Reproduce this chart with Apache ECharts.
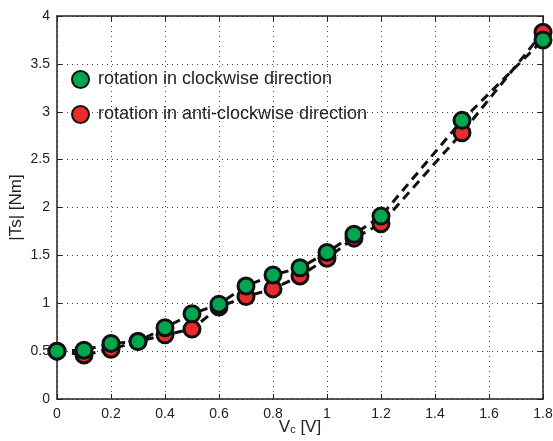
<!DOCTYPE html>
<html lang="en">
<head>
<meta charset="UTF-8">
<title>Ts vs Vc</title>
<script src="https://cdn.jsdelivr.net/npm/echarts@6/dist/echarts.min.js"></script>
<style>
html,body{margin:0;padding:0;background:#fff;}
#chart{width:553px;height:441px;}
</style>
</head>
<body>
<div id="chart"></div>
<script>
// data
var vc = [0, 0.1, 0.2, 0.3, 0.4, 0.5, 0.6, 0.7, 0.8, 0.9, 1.0, 1.1, 1.2, 1.5, 1.8];
var tsClockwise = [0.50, 0.51, 0.58, 0.60, 0.745, 0.89, 0.99, 1.18, 1.295, 1.37, 1.53, 1.72, 1.91, 2.91, 3.75];
var tsAnti = [0.50, 0.46, 0.52, 0.60, 0.67, 0.73, 0.96, 1.07, 1.15, 1.285, 1.47, 1.68, 1.83, 2.78, 3.83];
var nameCw = 'rotation in clockwise direction';
var nameAcw = 'rotation in anti-clockwise direction';

function pairs(xs, ys) {
  return xs.map(function (x, i) { return [x, ys[i]]; });
}

var font = 'Liberation Sans, Arial, sans-serif';

function mkSeries(name, ys, color) {
  return {
    name: name,
    type: 'line',
    data: pairs(vc, ys),
    symbol: 'circle',
    symbolSize: 16,
    itemStyle: { color: color, borderColor: '#111', borderWidth: 3 },
    lineStyle: { color: '#111', width: 3, type: [9, 6] },
    emphasis: { disabled: true },
    animation: false
  };
}

var myChart = echarts.init(document.getElementById('chart'));
var option = {
  backgroundColor: '#fff',
  textStyle: { fontFamily: font },
  grid: { left: 57, right: 10, top: 16, bottom: 42, containLabel: false, outerBoundsMode: 'none' },
  legend: {
    orient: 'vertical',
    left: 66,
    top: 65,
    itemGap: 16,
    itemWidth: 17,
    itemHeight: 17,
    icon: 'circle',
    data: [nameCw, nameAcw],
    textStyle: { fontSize: 18, color: '#222', fontFamily: font, padding: [0, 0, 0, 4] },
    selectedMode: false
  },
  xAxis: [{
    type: 'value',
    min: 0, max: 1.8, interval: 0.2,
    axisLine: { lineStyle: { color: '#222', width: 1.5 } },
    axisTick: { inside: true, length: 5, lineStyle: { color: '#222' } },
    axisLabel: { fontSize: 14, color: '#222', margin: 8, formatter: function (v) { return +v.toFixed(1) + ''; } },
    splitLine: { show: true, lineStyle: { color: '#444', type: [1, 4], width: 1 } },
    name: '{a|V}{b|c}{a| [V]}',
    nameLocation: 'middle',
    nameGap: 20,
    nameMoveOverlap: false,
    nameTextStyle: {
      rich: {
        a: { fontSize: 17, color: '#222', fontFamily: font },
        b: { fontSize: 11, color: '#222', fontFamily: font, padding: [5, 0, 0, 0] }
      }
    }
  }, {
    type: 'value', position: 'top',
    min: 0, max: 1.8, interval: 0.2,
    axisLine: { show: true, onZero: false, lineStyle: { color: '#222', width: 1.5 } },
    axisTick: { show: true, inside: true, length: 5, lineStyle: { color: '#222' } },
    axisLabel: { show: false },
    splitLine: { show: false }
  }],
  yAxis: [{
    type: 'value',
    min: 0, max: 4, interval: 0.5,
    axisLine: { show: true, lineStyle: { color: '#222', width: 1.5 } },
    axisTick: { show: true, inside: true, length: 5, lineStyle: { color: '#222' } },
    axisLabel: { fontSize: 14, color: '#222', margin: 7 },
    splitLine: { show: true, lineStyle: { color: '#444', type: [1, 4], width: 1 } },
    name: '|Ts| [Nm]',
    nameLocation: 'middle',
    nameGap: 32,
    nameMoveOverlap: false,
    nameTextStyle: { fontSize: 17, color: '#222', fontFamily: font }
  }, {
    type: 'value', position: 'right',
    min: 0, max: 4, interval: 0.5,
    axisLine: { show: true, onZero: false, lineStyle: { color: '#222', width: 1.5 } },
    axisTick: { show: true, inside: true, length: 5, lineStyle: { color: '#222' } },
    axisLabel: { show: false },
    splitLine: { show: false }
  }],
  series: [
    mkSeries(nameAcw, tsAnti, '#ee2b2b'),
    mkSeries(nameCw, tsClockwise, '#00a550')
  ]
};
myChart.setOption(option);
</script>
</body>
</html>
